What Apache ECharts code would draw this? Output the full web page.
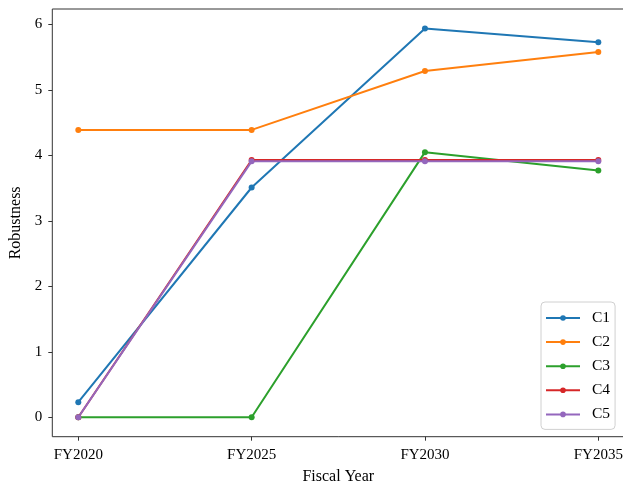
<!DOCTYPE html>
<html>
<head>
<meta charset="utf-8">
<script src="https://cdn.jsdelivr.net/npm/echarts@6/dist/echarts.min.js"></script>
<style>
  html, body { margin: 0; padding: 0; background: #fff; }
  #chart { width: 623px; height: 488px; }
</style>
</head>
<body>
<div id="chart"></div>
<script>
// Fiscal years on the horizontal axis
const fiscalYears = ['FY2020', 'FY2025', 'FY2030', 'FY2035'];
const seriesNames = ['C1', 'C2', 'C3', 'C4', 'C5'];

// Robustness per configuration
const c1 = [0.23, 3.51, 5.94, 5.73];
const c2 = [4.39, 4.39, 5.29, 5.58];
const c3 = [0.00, 0.00, 4.05, 3.77];
const c4 = [0.00, 3.93, 3.93, 3.93];
const c5 = [0.00, 3.91, 3.91, 3.91];

const yTicks = [0, 1, 2, 3, 4, 5, 6];
const colors = ['#1f77b4', '#ff7f0e', '#2ca02c', '#d62728', '#9467bd'];
const allValues = [c1, c2, c3, c4, c5];

// Axis extents with a 5% margin around the data
const flat = allValues.flat();
const dMin = Math.min(...flat), dMax = Math.max(...flat);
const yPad = (dMax - dMin) * 0.05;
const xPad = (fiscalYears.length - 1) * 0.05;
const serif = '"Liberation Serif", "Times New Roman", serif';

const chart = echarts.init(document.getElementById('chart'), null, { renderer: 'canvas' });

chart.setOption({
  animation: false,
  backgroundColor: '#fff',
  color: colors,
  grid: {
    left: 52.3, top: 9, width: 572, height: 427.7,
    outerBoundsMode: 'none', containLabel: false,
    show: true, borderColor: '#333', borderWidth: 1, backgroundColor: 'transparent'
  },
  xAxis: {
    type: 'value',
    min: -xPad, max: fiscalYears.length - 1 + xPad,
    name: 'Fiscal Year', nameLocation: 'middle', nameGap: 32,
    nameTextStyle: { fontFamily: serif, fontSize: 16, color: '#000' },
    axisLine: { show: false, onZero: false },
    splitLine: { show: false },
    axisTick: { show: true, length: 4, inside: false, customValues: fiscalYears.map((_, i) => i), lineStyle: { color: '#333' } },
    axisLabel: {
      customValues: fiscalYears.map((_, i) => i),
      formatter: v => fiscalYears[Math.round(v)] || '',
      fontFamily: serif, fontSize: 15, color: '#000', margin: 11
    }
  },
  yAxis: {
    type: 'value',
    min: dMin - yPad, max: dMax + yPad,
    name: 'Robustness', nameLocation: 'middle', nameGap: 26,
    nameTextStyle: { fontFamily: serif, fontSize: 16, color: '#000' },
    axisLine: { show: false, onZero: false },
    splitLine: { show: false },
    axisTick: { show: true, length: 4, customValues: yTicks, lineStyle: { color: '#333' } },
    axisLabel: {
      customValues: yTicks,
      fontFamily: serif, fontSize: 15, color: '#000', margin: 10
    }
  },
  legend: {
    orient: 'vertical',
    left: 541, top: 302,
    padding: [8, 5, 7, 4],
    itemWidth: 34, itemHeight: 7, itemGap: 8.1,
    backgroundColor: 'rgba(255,255,255,0.8)',
    borderColor: '#d0d0d0', borderWidth: 1, borderRadius: 4,
    textStyle: { fontFamily: serif, fontSize: 15.5, color: '#000', padding: [0, 0, 0, 7] },
    data: seriesNames
  },
  series: seriesNames.map((name, k) => ({
    name,
    type: 'line',
    data: allValues[k].map((v, i) => [i, v]),
    symbol: 'circle',
    symbolSize: 6,
    lineStyle: { width: 2 },
    itemStyle: { color: colors[k] },
    clip: false
  }))
});
</script>
</body>
</html>
